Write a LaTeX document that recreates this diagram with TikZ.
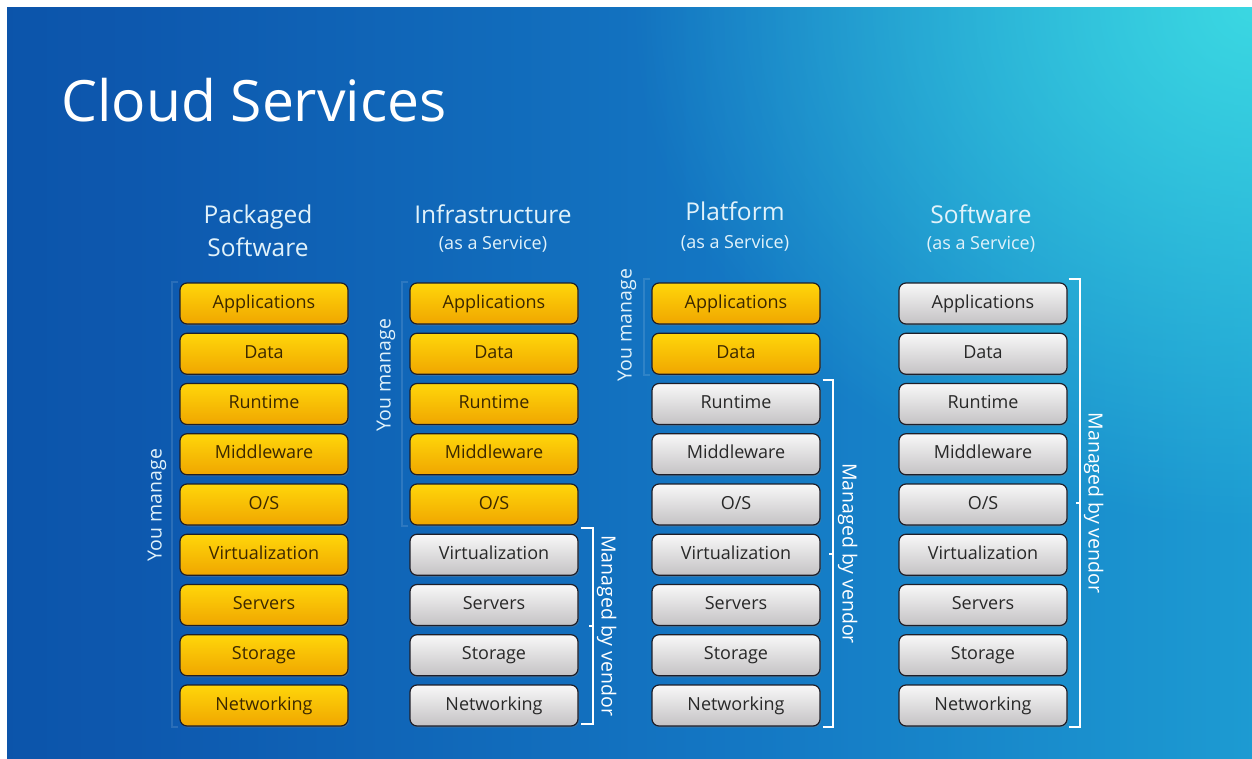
\documentclass[tikz,border=0pt]{standalone}
\usepackage{fontspec}
\setmainfont{Open Sans}
\usetikzlibrary{shadows,calc,fadings}
\definecolor{bgdark}{RGB}{8,66,152}
\definecolor{bgdark2}{RGB}{13,88,174}
\definecolor{bgmid}{RGB}{20,120,196}
\definecolor{bgmid2}{RGB}{30,160,212}
\definecolor{bgcyan}{RGB}{46,196,222}
\definecolor{glow}{RGB}{62,222,228}
\definecolor{ytop}{RGB}{255,214,10}
\definecolor{ybot}{RGB}{240,166,0}
\definecolor{gtop}{RGB}{248,248,248}
\definecolor{gbot}{RGB}{196,194,196}
\definecolor{boxline}{RGB}{30,30,40}
\definecolor{ytext}{RGB}{60,40,0}
\definecolor{gtext}{RGB}{40,40,40}
\definecolor{headtext}{RGB}{225,242,250}
\pgfdeclarehorizontalshading{bgshade}{100bp}{color(0bp)=(bgdark); color(30bp)=(bgdark2); color(55bp)=(bgmid); color(78bp)=(bgmid2); color(100bp)=(bgcyan)}
\tikzfading[name=softglow, inner color=transparent!0, outer color=transparent!100]
\tikzset{
 layerbox/.style={rounded corners=7pt, minimum width=168pt, minimum height=41pt,
   draw=boxline, line width=1.2pt, inner sep=0pt, text height=13pt, text depth=4pt,
   font=\fontsize{18}{20}\selectfont,
   drop shadow={shadow xshift=1pt,shadow yshift=-1.5pt,opacity=0.35}},
 youbox/.style={layerbox, top color=ytop, bottom color=ybot, text=ytext},
 vendorbox/.style={layerbox, top color=gtop, bottom color=gbot, text=gtext},
 heading/.style={text=headtext, font=\fontsize{24.5}{28}\selectfont, anchor=base, inner sep=0pt},
 subheading/.style={text=headtext, font=\fontsize{18}{20}\selectfont, anchor=base, inner sep=0pt},
 sidelabel/.style={font=\fontsize{19.5}{22}\selectfont, inner sep=0pt},
 vendorbracket/.style={draw=white, line width=2pt},
 youbracket/.style={draw=white, draw opacity=0.12, line width=2pt},
}
\begin{document}
\begin{tikzpicture}[x=1pt,y=-1pt]
\useasboundingbox (0,0) rectangle (1252,759);
\fill[white] (0,0) rectangle (1252,759);
\shade[shading=bgshade, shading angle=0] (7,8) rectangle (1252,759);
\begin{scope}
\clip (7,8) rectangle (1252,759);
\fill[glow, path fading=softglow, fill opacity=0.9] (1252,8) ellipse [x radius=620pt, y radius=520pt];
\end{scope}

\node[anchor=base west, text=white, font=\fontsize{57}{66}\selectfont, inner sep=0pt] (title) at (61,122) {Cloud Services};

\node[heading] (h1a) at (258,224) {Packaged};
\node[heading] (h1b) at (258,257) {Software};
\node[heading] (h2a) at (493,224) {Infrastructure};
\node[subheading] (h2b) at (493,250) {(as a Service)};
\node[heading] (h3a) at (735,221) {Platform};
\node[subheading] (h3b) at (735,248) {(as a Service)};
\node[heading] (h4a) at (981,224) {Software};
\node[subheading] (h4b) at (981,250) {(as a Service)};

\foreach \c/\x/\n in {1/264/9,2/494/5,3/736/2,4/983/0}{
  \foreach \lab [count=\i] in {Applications,Data,Runtime,Middleware,{O/S},Virtualization,Servers,Storage,Networking}{
    \ifnum\i>\n \def\st{vendorbox}\else\def\st{youbox}\fi
    \node[\st] (c\c r\i) at (\x, {303.5+50.25*(\i-1)}) {\lab};
  }
}

% You manage brackets
\draw[youbracket] ([xshift=-1pt]c1r1.north west) -- ++(-6,0) coordinate (y1t) |- ([xshift=-1pt]c1r9.south west);
\draw[youbracket] ([xshift=-1pt]c2r1.north west) -- ++(-6,0) coordinate (y2t) |- ([xshift=-1pt]c2r5.south west);
\draw[youbracket] ([xshift=-1pt,yshift=3pt]c3r1.north west) -- ++(-6,0) coordinate (y3t) |- ([xshift=-1pt]c3r2.south west);
\node[sidelabel, rotate=90, text=headtext] (ym1) at (157,505) {You manage};
\node[sidelabel, rotate=90, text=headtext] (ym2) at (386,375) {You manage};
\node[sidelabel, rotate=90, text=headtext] (ym3) at (627,325) {You manage};

% Managed by vendor brackets
\coordinate (v2t) at ([xshift=2pt,yshift=6pt]c2r6.north east);
\coordinate (v2b) at ([xshift=2pt,yshift=3pt]c2r9.south east);
\draw[vendorbracket] (v2t) -- ++(12,0) coordinate (v2tt) -- (v2tt |- v2b) coordinate (v2bb) -- (v2b);
\coordinate (v2m) at ($(v2tt)!0.5!(v2bb)$);
\draw[vendorbracket] (v2m) -- ++(-4,0);
\node[sidelabel, rotate=-90, text=white] (mv2) at ([xshift=14pt]v2m) {Managed by vendor};

\coordinate (v3t) at ([xshift=2pt,yshift=2.5pt]c3r3.north east);
\coordinate (v3b) at ([xshift=2pt]c3r9.south east);
\draw[vendorbracket] (v3t) -- ++(10,0) coordinate (v3tt) -- (v3tt |- v3b) coordinate (v3bb) -- (v3b);
\coordinate (v3m) at ($(v3tt)!0.5!(v3bb)$);
\draw[vendorbracket] (v3m) -- ++(-4,0);
\node[sidelabel, rotate=-90, text=white] (mv3) at ([xshift=15pt]v3m) {Managed by vendor};

\coordinate (v4t) at ([xshift=1pt,yshift=3pt]c4r1.north east);
\coordinate (v4b) at ([xshift=1pt]c4r9.south east);
\draw[vendorbracket] (v4t) -- ++(11,0) coordinate (v4tt) -- (v4tt |- v4b) coordinate (v4bb) -- (v4b);
\coordinate (v4m) at ($(v4tt)!0.5!(v4bb)$);
\draw[vendorbracket] (v4m) -- ++(-4,0);
\node[sidelabel, rotate=-90, text=white] (mv4) at ([xshift=14pt]v4m) {Managed by vendor};
\end{tikzpicture}
\end{document}
